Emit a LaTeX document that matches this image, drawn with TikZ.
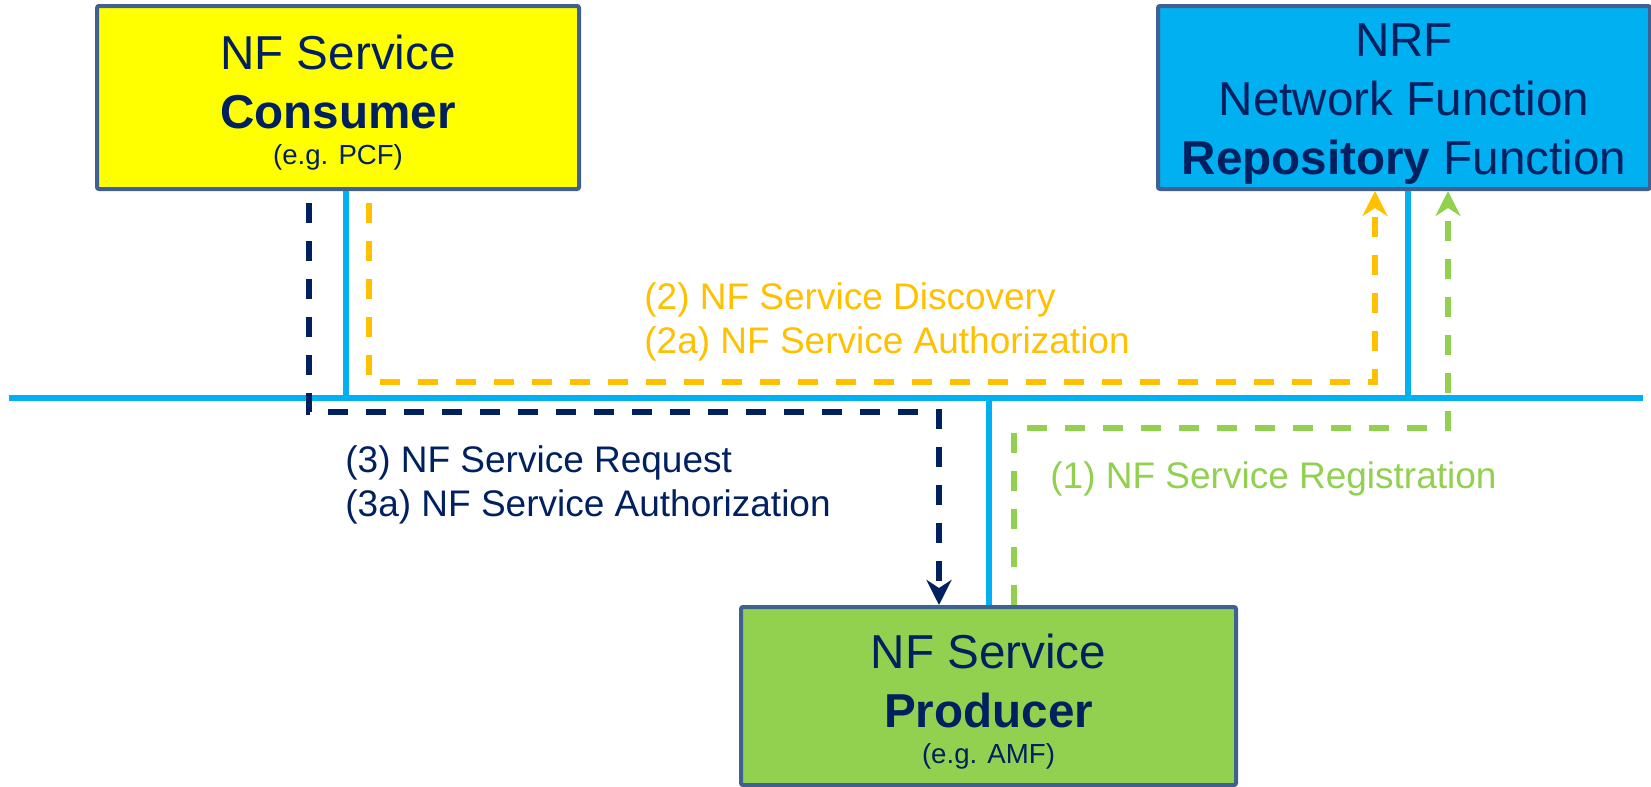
\documentclass[tikz,border=0pt]{standalone}
\usepackage{fontspec}
\setmainfont{Liberation Sans}
\usepackage{xcolor}
\usetikzlibrary{arrows.meta, positioning, calc}

\definecolor{nfnavy}{HTML}{002060}
\definecolor{nfborder}{HTML}{3F6090}
\definecolor{nfyellow}{HTML}{FFFF00}
\definecolor{nfcyan}{HTML}{00B0F0}
\definecolor{nfgreen}{HTML}{92D050}
\definecolor{nforange}{HTML}{FFC000}

\begin{document}
\begin{tikzpicture}[x=0.5pt, y=-0.5pt,
    nfbox/.style={draw=nfborder, line width=2pt, rounded corners=1pt, text=nfnavy,
        align=center, inner sep=0pt, font=\fontsize{23.8}{29.5}\selectfont},
    bus/.style={nfcyan, line width=2.8pt},
    flow/.style={dash pattern=on 10pt off 9pt, line width=2.6pt,
        -{Stealth[length=12.5pt, width=12.5pt, inset=4pt]}},
    lbl/.style={anchor=west, align=left, inner sep=0pt, font=\fontsize{18.5}{22}\selectfont}]
    \useasboundingbox (0,0) rectangle (1651,787);

    % 1. Three network functions
    \node[nfbox, fill=nfyellow, minimum width=241pt, minimum height=91.5pt] (consumer) at (338,97.5)
        {\rule{0pt}{22.8pt}NF Service\\\textbf{Consumer}\\[-11.5pt]{\fontsize{13.8}{16}\selectfont (e.g. PCF)}};
    \node[nfbox, fill=nfcyan, minimum width=246pt, minimum height=91.5pt] (nrf) at (1404,97.5)
        {\rule{0pt}{23.1pt}NRF\\Network Function\\\textbf{Repository} Function};
    \node[nfbox, fill=nfgreen, minimum width=247.5pt, minimum height=89pt] (producer) at (988.5,696)
        {\rule{0pt}{23.3pt}NF Service\\\textbf{Producer}\\[-11.5pt]{\fontsize{13.8}{16}\selectfont (e.g. AMF)}};

    % 2. Service bus and the taps of each function
    \coordinate (busW) at (9,398);
    \coordinate (busE) at (1643,398);
    \coordinate (cTap) at (346,398);
    \coordinate (rTap) at (1408,398);
    \coordinate (pTap) at (989,398);
    \draw[bus] (busW) -- (busE);
    \draw[bus] (cTap) -- (cTap |- consumer.south);
    \draw[bus] (rTap) -- (rTap |- nrf.south);
    \draw[bus] (pTap) -- (pTap |- producer.north);

    % 3. Message flows
    % (1) registration: producer -> NRF
    \coordinate (regA) at (1014,428);
    \coordinate (regB) at (1448,428);
    \draw[flow, nfgreen] (regA |- producer.north) -- (regA) -- (regB) -- (regB |- nrf.south);
    % (2) discovery: consumer -> NRF
    \coordinate (discA) at (369,203);
    \coordinate (discB) at (1375,382);
    \draw[flow, nforange] (discA) |- (discB) -- (discB |- nrf.south);
    % (3) request: consumer -> producer
    \coordinate (reqA) at (309,203);
    \coordinate (reqB) at (939,412);
    \draw[flow, nfnavy] (reqA) |- (reqB) -- (reqB |- producer.north);

    % 4. Labels of the flows
    \node[lbl, text=nforange] (discLbl) at (644,322)
        {(2) NF Service Discovery\\(2a) NF Service Authorization};
    \node[lbl, text=nfnavy] (reqLbl) at (345,485)
        {(3) NF Service Request\\(3a) NF Service Authorization};
    \node[lbl, text=nfgreen] (regLbl) at (1050,479) {(1) NF Service Registration};

\end{tikzpicture}
\end{document}
